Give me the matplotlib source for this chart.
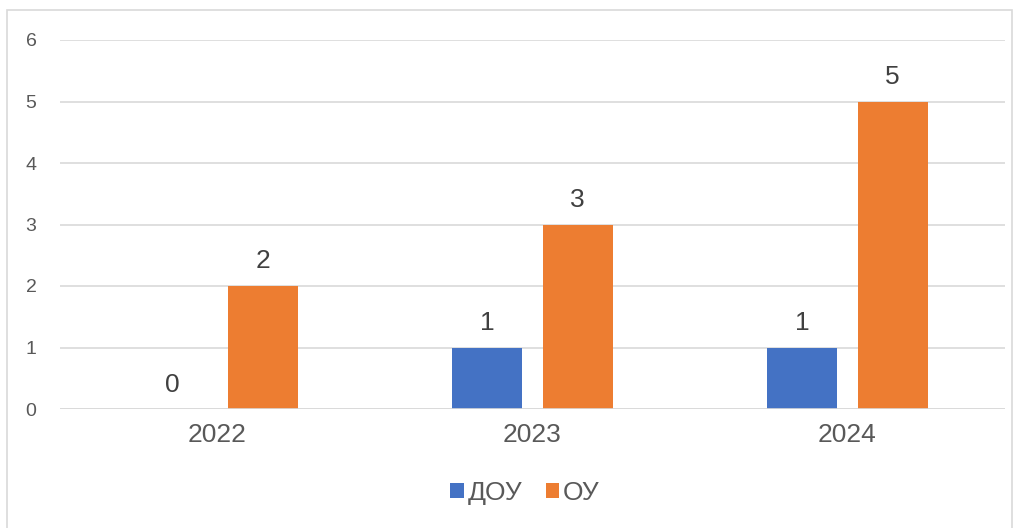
import numpy as np
import matplotlib.pyplot as plt
from matplotlib.patches import Rectangle

plt.rcParams['font.family'] = ['Liberation Sans', 'DejaVu Sans']

years = ["2022", "2023", "2024"]
dou = [0, 1, 1]
ou = [2, 3, 5]
series_names = ["ДОУ", "ОУ"]
colors = ["#4472C4", "#ED7D31"]
text_color = "#595959"

fig = plt.figure(figsize=(10.19, 5.28), dpi=100)
ax = fig.add_axes([60 / 1019, 1 - 409 / 528, 945 / 1019, 369 / 528])

x = np.arange(len(years))
w = 0.222
off = 0.143
b1 = ax.bar(x - off, dou, w, color=colors[0], label=series_names[0], zorder=3)
b2 = ax.bar(x + off, ou, w, color=colors[1], label=series_names[1], zorder=3)

for bars in (b1, b2):
    for r in bars:
        h = r.get_height()
        ax.annotate(f"{h:g}", (r.get_x() + r.get_width() / 2, h),
                    xytext=(0, 9), textcoords="offset points",
                    ha="center", va="bottom", fontsize=19, color="#404040")

ax.set_xlim(-0.5, 2.5)
ax.set_ylim(0, 6)
ax.set_yticks(range(7))
ax.set_xticks(x)
ax.set_xticklabels(years)
ax.grid(axis="y", color="#D9D9D9", linewidth=1.2, zorder=0)
for s in ax.spines.values():
    s.set_visible(False)
ax.axhline(0, color="#D9D9D9", linewidth=1.2, zorder=4)
ax.tick_params(axis="y", length=0, labelsize=14, labelcolor=text_color, pad=17)
ax.tick_params(axis="x", length=0, labelsize=19, labelcolor=text_color, pad=10)

ax.legend(loc="center", bbox_to_anchor=(525 / 1019, 1 - 493 / 528),
          bbox_transform=fig.transFigure, ncol=2, frameon=False,
          fontsize=19, labelcolor=text_color, handlelength=0.5,
          handleheight=0.5, handletextpad=0.15, columnspacing=0.9)

fig.patches.append(Rectangle((7 / 1019, -0.01), 1005 / 1019, 1 - 10 / 528 + 0.01,
                             transform=fig.transFigure, fill=False,
                             edgecolor="#D9D9D9", linewidth=1.2))

fig.savefig("out.png", dpi=100, facecolor="white")
